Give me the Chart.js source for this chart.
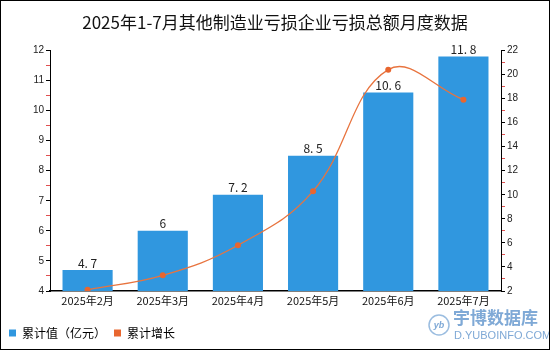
<!DOCTYPE html>
<html>
<head>
<meta charset="utf-8">
<script src="https://cdn.jsdelivr.net/npm/chart.js@4/dist/chart.umd.min.js"></script>
<style>
  body { margin: 0; background: #fff; }
  #wrap { width: 548px; height: 348px; border: 1px solid #000; position: relative; }
</style>
</head>
<body>
<div id="wrap"><canvas id="myChart" width="548" height="348"></canvas></div>
<script>
var months = ['2025年2月', '2025年3月', '2025年4月', '2025年5月', '2025年6月', '2025年7月'];
var totalValues = [4.7, 6, 7.2, 8.5, 10.6, 11.8];
var growthValues = [2.1, 3.3, 5.8, 10.3, 20.4, 17.9];
var leftTicks = [4, 12];
var rightTicks = [2, 22];

var fontFamily = '"Noto Sans CJK SC", "Liberation Sans", sans-serif';

// number labels on top of the bars
var barLabels = {
  id: 'barLabels',
  afterDatasetsDraw: function(chart) {
    var ctx = chart.ctx;
    var meta = chart.getDatasetMeta(1);
    ctx.save();
    ctx.font = '12px ' + fontFamily;
    ctx.fillStyle = '#222';
    ctx.textAlign = 'center';
    ctx.textBaseline = 'bottom';
    meta.data.forEach(function(bar, i) {
      ctx.fillText(String(totalValues[i]).replace('.', '. '), bar.x, bar.y - 1);
    });
    ctx.restore();
  }
};

// watermark in the bottom right corner
var watermark = {
  id: 'watermark',
  afterDraw: function(chart) {
    var ctx = chart.ctx;
    ctx.save();
    ctx.strokeStyle = '#9bbde0';
    ctx.lineWidth = 1.5;
    ctx.beginPath();
    ctx.arc(438, 324, 10, 0, Math.PI * 2);
    ctx.stroke();
    ctx.fillStyle = '#7fa9d6';
    ctx.font = 'italic bold 9px "Liberation Sans", sans-serif';
    ctx.textAlign = 'center';
    ctx.textBaseline = 'middle';
    ctx.fillText('yb', 438, 325);
    ctx.textAlign = 'left';
    ctx.font = 'bold 17px ' + fontFamily;
    ctx.fillText('宇博数据库', 452, 317);
    ctx.font = '11px "Liberation Sans", sans-serif';
    ctx.fillText('D.YUBOINFO.COM', 453, 335);
    ctx.restore();
  }
};

var ctx = document.getElementById('myChart').getContext('2d');
var myChart = new Chart(ctx, {
  data: {
    labels: months,
    datasets: [
      {
        type: 'line',
        label: '累计增长',
        data: growthValues,
        yAxisID: 'y1',
        borderColor: '#E8743F',
        backgroundColor: '#E8743F',
        borderWidth: 1.3,
        pointRadius: 3,
        pointBackgroundColor: '#E8662F',
        pointBorderWidth: 0,
        tension: 0.4,
        order: 0
      },
      {
        type: 'bar',
        label: '累计值（亿元）',
        data: totalValues,
        yAxisID: 'y',
        backgroundColor: '#3097DF',
        barPercentage: 1,
        categoryPercentage: 0.667,
        order: 1
      }
    ]
  },
  plugins: [barLabels, watermark],
  options: {
    responsive: false,
    animation: false,
    layout: { padding: { top: 0, right: 0, bottom: 0, left: 0 } },
    plugins: {
      title: {
        display: true,
        text: '2025年1-7月其他制造业亏损企业亏损总额月度数据',
        color: '#111',
        font: { family: fontFamily, size: 17, weight: 'normal' },
        padding: { top: 11, bottom: 18 }
      },
      legend: {
        position: 'bottom',
        align: 'start',
        reverse: true,
        labels: {
          boxWidth: 7,
          boxHeight: 7,
          padding: 8,
          color: '#111',
          font: { family: fontFamily, size: 12 },
          generateLabels: function(chart) {
            return chart.data.datasets.map(function(ds, i) {
              return {
                text: ds.label,
                fillStyle: ds.type === 'bar' ? '#3097DF' : '#E8662F',
                strokeStyle: 'transparent',
                lineWidth: 0,
                datasetIndex: i
              };
            });
          }
        }
      },
      tooltip: { enabled: false }
    },
    scales: {
      x: {
        grid: { display: false, drawOnChartArea: false, drawTicks: true, tickLength: 3, tickColor: '#000' },
        border: { color: '#000', width: 1.5 },
        ticks: { color: '#111', font: { family: fontFamily, size: 11 }, padding: 0, maxRotation: 0 },
        afterFit: function(scale) { scale.height = 28; }
      },
      y: {
        position: 'left',
        min: leftTicks[0],
        max: leftTicks[1],
        grid: {
          drawOnChartArea: false,
          tickLength: 4,
          tickColor: function(c) { return c.tick && c.tick.value % 1 ? '#e05050' : '#000'; }
        },
        border: { color: '#000', width: 1 },
        ticks: {
          stepSize: 0.5,
          autoSkip: false,
          color: '#222',
          padding: 2,
          font: { family: '"Liberation Sans", sans-serif', size: 10 },
          callback: function(v) { return v % 1 ? '' : v; }
        },
        afterFit: function(scale) { scale.width = 49; }
      },
      y1: {
        position: 'right',
        min: rightTicks[0],
        max: rightTicks[1],
        grid: {
          drawOnChartArea: false,
          tickLength: 4,
          tickColor: function(c) { return c.tick && c.tick.value % 2 ? '#e05050' : '#000'; }
        },
        border: { color: '#000', width: 1 },
        ticks: {
          stepSize: 1,
          autoSkip: false,
          color: '#222',
          padding: 2,
          font: { family: '"Liberation Sans", sans-serif', size: 10 },
          callback: function(v) { return v % 2 ? '' : v; }
        },
        afterFit: function(scale) { scale.width = 48; }
      }
    }
  }
});
</script>
</body>
</html>
